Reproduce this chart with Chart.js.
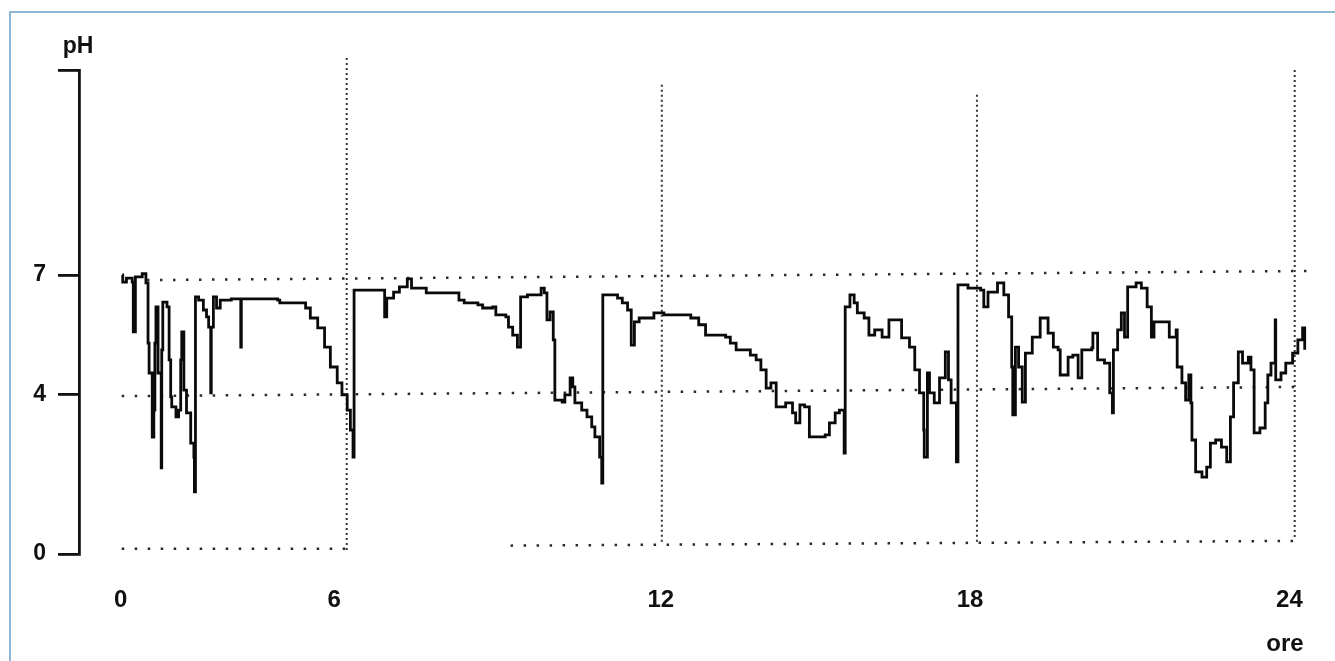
<!DOCTYPE html>
<html><head><meta charset="utf-8">
<script src="https://cdn.jsdelivr.net/npm/chart.js@4.4.1/dist/chart.umd.min.js"></script>
<style>
html,body{margin:0;padding:0;background:#fff;overflow:hidden;width:1335px;height:661px;}
#frame{position:absolute;left:9px;top:11px;width:1400px;height:700px;border:2px solid #8db8d3;box-sizing:border-box;}
#c{position:absolute;left:0;top:0;}
</style></head><body>
<div id="frame"></div>
<canvas id="c" width="1335" height="661"></canvas>
<script>
// x axis: time of the recording (hours); labels sit at these positions
const hourTicks  = [1.72, 5.77, 11.97, 17.84, 23.90];
const hourLabels = ['0', '6', '12', '18', '24'];
const phTicks  = [0, 4, 7, 12.14];
const phLabels = ['0', '4', '7', ''];
const xMin = 0.93, xMax = 24.17, yMin = 0, yMax = 12.14;

// 24h oesophageal pH trace
const traceHours = [
 1.75,1.76,1.83,1.94,1.96,2.00,2.13,2.20,2.24,2.26,2.32,2.35,2.37,2.39,2.43,2.49,2.50,2.52,2.60,2.64,
 2.67,2.69,2.77,2.82,2.86,2.88,2.92,2.97,3.05,3.11,3.12,3.14,3.20,3.29,3.35,3.39,3.43,3.44,3.48,3.54,
 3.61,3.82,3.99,4.00,4.01,4.33,4.70,4.74,5.08,5.23,5.32,5.46,5.59,5.70,5.83,5.92,6.02,6.08,6.13,6.15,
 6.39,6.68,6.73,6.77,6.90,7.01,7.16,7.24,7.47,7.52,8.05,8.14,8.24,8.50,8.59,8.78,8.84,9.03,9.08,9.16,
 9.25,9.31,9.44,9.63,9.70,9.76,9.81,9.87,9.93,9.96,10.10,10.15,10.25,10.30,10.34,10.47,10.57,10.66,10.72,10.81,
 10.85,10.87,11.15,11.24,11.34,11.41,11.47,11.56,11.84,12.03,12.54,12.69,12.82,13.20,13.29,13.40,13.67,13.78,13.87,13.97,
 14.06,14.14,14.16,14.34,14.47,14.53,14.61,14.70,14.79,15.09,15.17,15.28,15.36,15.45,15.47,15.56,15.64,15.70,15.83,15.92,
 16.03,16.17,16.30,16.50,16.54,16.69,16.79,16.88,16.96,16.97,17.03,17.07,17.16,17.26,17.37,17.43,17.48,17.58,17.61,17.80,
 18.04,18.10,18.18,18.36,18.48,18.57,18.63,18.65,18.70,18.76,18.83,18.89,19.02,19.17,19.32,19.42,19.51,19.55,19.70,19.79,
 19.89,19.96,20.15,20.17,20.26,20.39,20.49,20.54,20.56,20.64,20.71,20.77,20.83,20.99,21.09,21.20,21.28,21.33,21.52,21.62,
 21.75,21.77,21.86,21.93,21.99,22.03,22.05,22.12,22.24,22.33,22.40,22.50,22.61,22.71,22.78,22.84,22.93,23.01,23.12,23.17,
 23.23,23.34,23.44,23.49,23.55,23.63,23.64,23.74,23.83,23.96,24.06,24.15,24.19,24.25,24.28
];
const tracePH = [
 7.00,6.82,6.92,6.82,5.57,6.95,7.03,6.80,5.29,4.54,2.93,3.61,5.29,6.20,4.54,2.16,5.12,6.32,6.20,4.87,
 3.94,3.69,3.44,3.61,4.87,5.57,4.11,3.54,2.78,2.43,1.56,6.45,6.37,6.12,5.95,5.69,4.04,5.69,6.45,6.17,
 6.37,6.40,6.40,5.19,6.40,6.40,6.37,6.30,6.30,6.17,5.92,5.67,5.19,4.69,4.29,3.99,3.61,3.11,2.43,6.62,
 6.62,6.62,5.95,6.42,6.57,6.70,6.90,6.67,6.67,6.55,6.55,6.37,6.30,6.25,6.17,6.20,6.00,5.95,5.69,5.49,
 5.19,6.45,6.50,6.50,6.67,6.55,5.87,6.07,5.37,3.86,3.81,3.99,4.42,4.19,3.79,3.61,3.44,3.19,2.94,2.43,
 1.78,6.50,6.42,6.30,6.12,5.24,5.82,5.92,6.05,6.00,5.92,5.75,5.49,5.44,5.29,5.12,4.99,4.87,4.62,4.16,
 4.29,4.29,3.69,3.79,3.54,3.29,3.74,3.69,2.94,2.99,3.29,3.54,3.61,2.53,6.20,6.50,6.30,6.05,5.92,5.49,
 5.62,5.44,5.87,5.87,5.42,5.19,4.62,4.04,3.11,2.43,4.54,4.04,3.79,4.42,5.07,4.37,3.79,2.31,6.75,6.67,
 6.62,6.20,6.57,6.80,6.50,5.95,4.69,3.49,5.19,4.69,3.81,5.04,5.44,5.92,5.54,5.19,5.12,4.49,4.94,4.99,
 4.42,5.12,5.17,5.54,4.87,4.79,4.04,3.54,5.12,5.62,6.05,5.44,6.70,6.80,6.67,6.20,5.44,5.82,5.82,5.44,
 5.62,4.69,4.29,3.86,4.49,3.79,2.86,2.06,1.93,2.18,2.78,2.86,2.68,2.31,3.44,4.29,5.07,4.79,4.94,4.62,
 3.04,3.16,3.79,4.49,4.79,5.87,4.37,4.54,4.79,5.04,5.37,5.67,5.12,5.29,5.49
];

// dotted reference lines printed on the recording paper (pH 7, 4, 0)
const ref7Hours = [2.22, 24.34],  ref7PH = [6.87, 7.10];
const ref4Hours = [1.74, 24.06],  ref4PH = [3.96, 4.19];
const ref0aHours = [1.74, 6.02],  ref0aPH = [0.13, 0.13];
const ref0bHours = [9.12, 24.15], ref0bPH = [0.21, 0.33];
// dotted hour markers of the recording paper
const markerHours    = [6.01, 11.99, 17.97, 24.00];
const markerTopPH    = [12.44, 11.77, 11.52, 12.14];
const markerBottomPH = [0.10, 0.23, 0.30, 0.35];

const pts = (xs, ys) => xs.map((x, i) => ({x, y: ys[i]}));
const dotted = (xs, ys) => ({
  data: pts(xs, ys), borderColor: '#2a2a2a', borderWidth: 2.5, borderDash: [2.5, 10.5],
  pointRadius: 0, fill: false, clip: false, order: 3
});

const datasets = [
  dotted(ref7Hours, ref7PH), dotted(ref4Hours, ref4PH),
  dotted(ref0aHours, ref0aPH), dotted(ref0bHours, ref0bPH)
];
markerHours.forEach((h, i) => datasets.push({
  data: pts([h, h], [markerTopPH[i], markerBottomPH[i]]),
  borderColor: '#333', borderWidth: 2, borderDash: [2, 3],
  pointRadius: 0, fill: false, clip: false, order: 2
}));
datasets.push({
  data: pts(traceHours, tracePH), borderColor: '#0a0a0a', borderWidth: 2.8,
  borderJoinStyle: 'miter', stepped: 'before', pointRadius: 0, fill: false, clip: false, order: 1
});

const FONT = '"Liberation Sans", Arial, sans-serif';
const phTitle = {
  id: 'phTitle',
  afterDraw(chart) {
    const {ctx, chartArea} = chart;
    ctx.save();
    ctx.font = 'bold 23px ' + FONT;
    ctx.fillStyle = '#111';
    ctx.textAlign = 'center';
    ctx.textBaseline = 'alphabetic';
    ctx.fillText('pH', chartArea.left - 1, chartArea.top - 17);
    ctx.restore();
  }
};

new Chart(document.getElementById('c'), {
  type: 'line',
  data: { datasets },
  plugins: [phTitle],
  options: {
    responsive: false, animation: false, devicePixelRatio: 1,
    layout: { padding: { top: 70, right: 19, bottom: 0, left: 0 } },
    plugins: { legend: { display: false }, tooltip: { enabled: false } },
    scales: {
      x: {
        type: 'linear', min: xMin, max: xMax,
        afterFit: s => { s.height = 107; },
        afterBuildTicks: s => { s.ticks = hourTicks.map(v => ({value: v})); },
        grid: { display: false, drawTicks: false },
        border: { display: false },
        ticks: {
          autoSkip: false, maxRotation: 0, padding: 32, color: '#111',
          font: { family: FONT, size: 24, weight: 'bold' },
          callback: (v, i) => hourLabels[i]
        },
        title: {
          display: true, text: 'ore', align: 'end', color: '#111',
          font: { family: FONT, size: 24, weight: 'bold' },
          padding: { top: 0, bottom: 2 }
        }
      },
      y: {
        type: 'linear', min: yMin, max: yMax,
        afterFit: s => { s.width = 79; },
        afterBuildTicks: s => { s.ticks = phTicks.map(v => ({value: v})); },
        grid: { drawOnChartArea: false, drawTicks: true, tickLength: 21, color: '#111', lineWidth: 2.8 },
        border: { display: true, color: '#111', width: 2.8 },
        ticks: {
          padding: 12, color: '#111',
          font: { family: FONT, size: 23, weight: 'bold' },
          callback: (v, i) => phLabels[i]
        }
      }
    }
  }
});
</script></body></html>
